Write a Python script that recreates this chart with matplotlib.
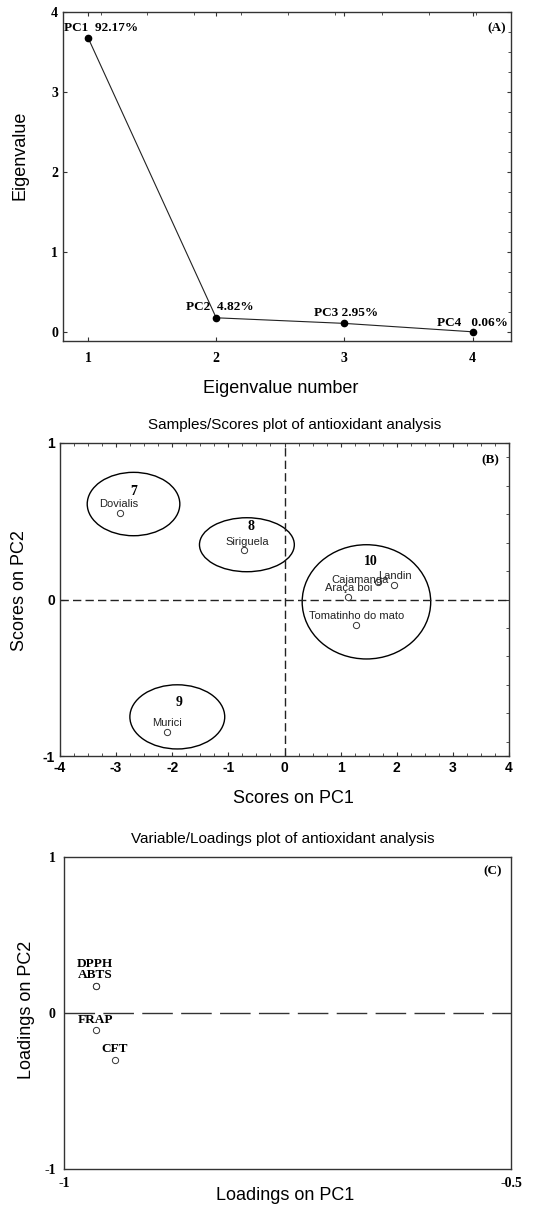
import matplotlib
matplotlib.use('Agg')
import matplotlib.pyplot as plt
from matplotlib.patches import Ellipse
from matplotlib.ticker import MultipleLocator

plt.rcParams['axes.unicode_minus'] = False

# (A) scree plot
eig_num = [1, 2, 3, 4]
eig_vals = [3.68, 0.18, 0.11, 0.005]
eig_text = ['PC1  92.17%', 'PC2  4.82%', 'PC3 2.95%', 'PC4   0.06%']

# (B) scores
samples = ['Dovialis', 'Siriguela', 'Murici', 'Araça boi', 'Cajamanga', 'Landin', 'Tomatinho do mato']
pc1_scores = [-2.93, -0.72, -2.09, 1.14, 1.67, 1.95, 1.28]
pc2_scores = [0.55, 0.315, -0.845, 0.015, 0.11, 0.09, -0.16]

# clusters drawn as ellipses
clusters = ['7', '8', '9', '10']
clu_x = [-2.69, -0.67, -1.91, 1.46]
clu_y = [0.61, 0.35, -0.75, -0.015]
clu_w = [1.65, 1.69, 1.69, 2.29]
clu_h = [0.405, 0.345, 0.41, 0.73]

# (C) loadings
variables = ['DPPH', 'ABTS', 'FRAP', 'CFT']
load_pc1 = [-0.964, -0.964, -0.964, -0.943]
load_pc2 = [0.17, 0.17, -0.11, -0.30]

#label offsets in pixels (text centre relative to point)
score_off = [(-1, 9), (3, 8), (0, 9), (0, 9), (-18, 2), (1, 9), (0, 9)]
clu_off = [(0, 13), (4, 18), (2, 14), (4, 40)]
eig_off = [(-24, 10), (-30, 11), (-30, 10), (-36, 9)]
load_off = [(-1, 22), (-1, 11), (-1, 10), (0, 11)]

W, H = 546, 1205
fig = plt.figure(figsize=(W / 100, H / 100), dpi=100)

def px_axes(l, r, t, b):
    return fig.add_axes([l / W, (H - b) / H, (r - l) / W, (b - t) / H])

serif_b = dict(family='Liberation Serif', weight='bold')
sans = dict(family='Liberation Sans')
edge = '#333333'

def style(ax):
    for s in ax.spines.values():
        s.set_color(edge)
        s.set_linewidth(1)

#---------- panel A
ax1 = px_axes(63, 511, 12, 341)
style(ax1)
ax1.plot(eig_num, eig_vals, color='#222222', lw=0.8, marker='o', ms=4.5, mfc='black', mec='black')
for x, y, t, o in zip(eig_num, eig_vals, eig_text, eig_off):
    ax1.annotate(t, (x, y), xytext=o, textcoords='offset pixels', ha='left', va='center',
                 fontsize=9.5, **serif_b)
ax1.set_xlim(0.805, 4.3)
ax1.set_ylim(-0.11, 4)
ax1.set_xticks(eig_num)
ax1.set_yticks([0, 1, 2, 3, 4])
ax1.xaxis.set_minor_locator(MultipleLocator(0.366))
ax1.yaxis.set_minor_locator(MultipleLocator(0.25))
ax1.tick_params(which='major', direction='in', length=3, top=True, right=True, color=edge)
ax1.tick_params(axis='x', which='major', pad=8)
ax1.tick_params(which='minor', direction='in', length=2, top=True, right=True, bottom=False, left=False, color=edge)
for lab in ax1.get_xticklabels() + ax1.get_yticklabels():
    lab.set_fontproperties('Liberation Serif')
    lab.set_fontweight('bold')
    lab.set_fontsize(10)
ax1.text(0.989, 0.951, '(A)', transform=ax1.transAxes, ha='right', va='center', fontsize=9.5, **serif_b)
ax1.set_xlabel('Eigenvalue number', fontsize=13, **sans)
ax1.set_ylabel('Eigenvalue', fontsize=13, **sans)
ax1.xaxis.set_label_coords(0.487, -0.119)
ax1.yaxis.set_label_coords(-0.076, 0.565)

#---------- panel B
ax2 = px_axes(60, 509, 443, 756)
style(ax2)
ax2.axhline(0, color='#222222', lw=1, dashes=(6, 3))
ax2.axvline(0, color='#222222', lw=1, dashes=(6, 3))
for c, x, y, w, h, o in zip(clusters, clu_x, clu_y, clu_w, clu_h, clu_off):
    ax2.add_patch(Ellipse((x, y), w, h, fill=False, ec='black', lw=1))
    ax2.annotate(c, (x, y), xytext=o, textcoords='offset pixels', ha='center', va='center',
                 fontsize=10, **serif_b)
ax2.plot(pc1_scores, pc2_scores, 'o', ms=4.5, mfc='white', mec='#333333', mew=0.7, ls='none')
for n, x, y, o in zip(samples, pc1_scores, pc2_scores, score_off):
    ax2.annotate(n, (x, y), xytext=o, textcoords='offset pixels', ha='center', va='center',
                 fontsize=8, color='#222222', **sans)
ax2.set_xlim(-4, 4)
ax2.set_ylim(-1, 1)
ax2.set_xticks(range(-4, 5))
ax2.set_yticks([-1, 0, 1])
ax2.xaxis.set_minor_locator(MultipleLocator(0.25))
ax2.yaxis.set_minor_locator(MultipleLocator(0.182))
ax2.tick_params(which='major', direction='in', length=3, top=True, right=True, color=edge)
ax2.tick_params(which='minor', direction='in', length=2, top=True, right=True, left=False, color=edge)
for lab in ax2.get_xticklabels() + ax2.get_yticklabels():
    lab.set_fontproperties('Liberation Sans')
    lab.set_fontweight('bold')
    lab.set_fontsize(10)
ax2.text(0.978, 0.946, '(B)', transform=ax2.transAxes, ha='right', va='center', fontsize=9.5, **serif_b)
ax2.text(0.522, 1.057, 'Samples/Scores plot of antioxidant analysis', transform=ax2.transAxes,
         ha='center', va='center', fontsize=11, **sans)
ax2.set_xlabel('Scores on PC1', fontsize=13, **sans)
ax2.set_ylabel('Scores on PC2', fontsize=13, **sans)
ax2.xaxis.set_label_coords(0.52, -0.109)
ax2.yaxis.set_label_coords(-0.071, 0.53)

#---------- panel C
ax3 = px_axes(64, 511, 857, 1169)
style(ax3)
ax3.axhline(0, color='#333333', lw=1, dashes=(22, 6))
ax3.plot(load_pc1, load_pc2, 'o', ms=4.5, mfc='white', mec='#333333', mew=0.7, ls='none')
for n, x, y, o in zip(variables, load_pc1, load_pc2, load_off):
    ax3.annotate(n, (x, y), xytext=o, textcoords='offset pixels', ha='center', va='center',
                 fontsize=9.5, **serif_b)
ax3.set_xlim(-1, -0.5)
ax3.set_ylim(-1, 1)
ax3.set_xticks([-1, -0.5])
ax3.set_xticklabels(['-1', '-0.5'])
ax3.set_yticks([-1, 0, 1])
ax3.tick_params(length=0, pad=6)
for lab in ax3.get_xticklabels() + ax3.get_yticklabels():
    lab.set_fontproperties('Liberation Serif')
    lab.set_fontweight('bold')
    lab.set_fontsize(10)
ax3.text(0.98, 0.953, '(C)', transform=ax3.transAxes, ha='right', va='center', fontsize=9.5, **serif_b)
ax3.text(0.49, 1.058, 'Variable/Loadings plot of antioxidant analysis', transform=ax3.transAxes,
         ha='center', va='center', fontsize=11, **sans)
ax3.set_xlabel('Loadings on PC1', fontsize=13, **sans)
ax3.set_ylabel('Loadings on PC2', fontsize=13, **sans)
ax3.xaxis.set_label_coords(0.494, -0.058)
ax3.yaxis.set_label_coords(-0.065, 0.51)

fig.savefig('out.png', dpi=100)
